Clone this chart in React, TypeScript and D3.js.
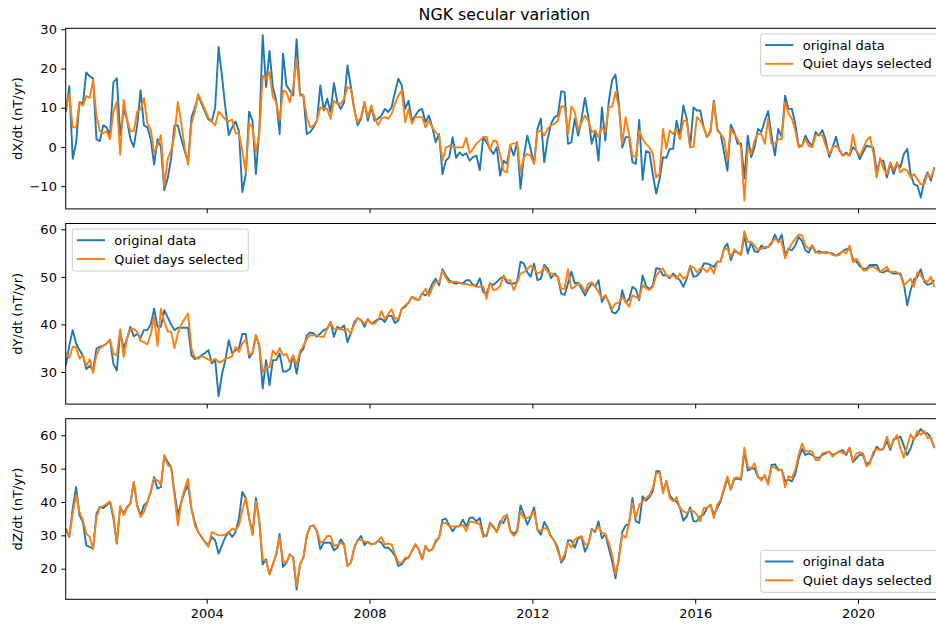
import React, { useEffect, useRef } from 'react';
import * as d3 from 'd3';

// monthly series, first value is July 2000 (mid-month), one row per year
const START_YEAR = 2000 + 6.5 / 12;
const yearTicks = [2004, 2008, 2012, 2016, 2020];
const seriesNames = ['original data', 'Quiet days selected'];

const dxOriginal = [
  9, 15.5, -3, 1, 11.5, 11,
  19, 18, 17.5, 2, 1.5, 5.5, 5, 3, 16.5, 17.5, 3, 9.5,
  7, 2, 0, 5.5, 14.5, 5.5, 5, 2, -4.5, 2, 0, -11,
  -8, -3, 5.5, 5.5, 2, -1, -4, 7.5, 10, 13, 11, 9,
  7, 6.5, 10, 25.5, 18, 10, 3, 5, 6.5, 4, -11.5, -7,
  9, 6.7, -6.9, 4.2, 28.5, 15.3, 24.5, 15.3, 11.8, 3.3, 23.8, 15.7,
  14.4, 13.1, 27.5, 13.6, 13.1, 3.3, 3.8, 5, 6.7, 15.7, 9.3, 12.3,
  8.9, 16.3, 11.4, 9.7, 11.4, 20.8, 15.3, 9.7, 5.5, 7.2, 11.4, 6.7,
  10.1, 6.7, 7.2, 8, 9.7, 8.9, 10.1, 14, 17.4, 15.7, 9.7, 11.8,
  6.7, 8, 9.3, 9.7, 6.3, 8, 5, 1.2, 3.3, -6.9, -3.5, -2.6,
  2.5, -2.8, -1.4, -2.2, -1.6, -3.5, -2.6, -2.2, -5.9, 2.5, 1.2, -0.5,
  -1.8, -0.1, -7.3, -3.5, -4.3, 0.3, -2.2, 1.2, -10.7, -2.2, 2.9, -0.5,
  -4.3, 4.6, 7.2, -3.9, 2, 5.9, 7.6, 8, 14.2, 14, 0.8, 1.2,
  7.2, 2.9, 7.2, 12.5, 7.6, 0.8, 3.8, -3.5, 10.1, 1.6, 11.4, 17,
  18.5, 11, -0.1, 2.5, 2.5, -3.9, -4.3, 6.9, -8.4, -1.1, -1.4, -6.9,
  -11.9, -8.2, -2.6, -2.8, -0.5, -0.5, 6.7, 2.9, 10.6, 7.2, -0.1, 10.1,
  9.3, 9.3, 5, 2.5, 3.8, 11.8, 4.6, 3.3, -1.4, -6.1, 5.7, 3.8,
  0.8, 0.9, -8, 2.9, -2.6, -0.1, 4.6, 3.8, 6.7, 9.1, 2.9, -2.2,
  4.6, 2.5, 13.1, 9.7, 9.7, 5.9, 0.3, 0.3, 2.9, 1.2, 0.3, 3.8,
  2.9, 4.3, 1.6, -2.6, -0.1, 2.6, -0.9, -2.2, -1.4, -2.2, -0.1, -0.9,
  -3.1, -1.4, 0.3, 0.1, -0.1, -6.1, -3.5, -3.5, -7.8, -4.3, -6.9, -4.3,
  -5.2, -1.8, -0.5, -6.9, -9.5, -9.9, -12.9, -8.6, -6.5, -8.6, -5.2,
];

const dxQuiet = [
  10, 13.5, 5, 5, 11.5, 10.5,
  13, 12.5, 17, 8, 4, 3.5, 4, 2, 9, 11.5, -2, 12,
  7, 4, 4, 9, 9.5, 12.5, 6, 4.5, -1.5, 0.5, 3, -10,
  -3, -1, 3, 11.5, 6, 0, -4.5, 6, 9, 13.5, 11.5, 9.5,
  7.5, 6.5, 5.5, 9, 8, 7, 6.5, 7, 3.5, 3.5, -1, -6.5,
  6, 5, -1.4, 3.3, 18.2, 17.4, 19.1, 12.7, 11.4, 6.7, 14.4, 14,
  11.4, 15.3, 22.5, 13.1, 13.1, 7.6, 5, 5.5, 6.7, 10.1, 9.7, 9.7,
  7.2, 11.8, 11, 11, 12.3, 15.3, 14.8, 9.3, 6.3, 7.6, 11.4, 7.6,
  10.6, 7.6, 5.5, 7.2, 7.6, 7.2, 8.4, 11, 13.1, 14.4, 6.3, 9.7,
  5.9, 7.6, 7.6, 7.6, 5, 6.7, 5, 3.7, 2.9, -3.5, -0.1, 0.3,
  0.1, -0.1, -0.1, -0.1, 2.3, -1.6, -0.5, 0.8, 1.6, 2.5, 2.6, -0.9,
  1.6, 1.4, -1.8, -6.1, -6.5, 0.6, 0.9, 0.9, -6.5, -2.6, -1.8, -2.2,
  -4.3, 3.8, 4.2, 2.9, 4.6, 5.5, 5.9, 6.7, 10.3, 10.3, 3.3, 10.3,
  8.9, 4.2, 6.3, 8, 6.7, 3.8, 4.2, 2.5, 5, 3.8, 10.1, 10.3,
  14, 10.1, 0.8, 7.6, 3.3, -2.2, -2.6, 4.2, 2, 0.8, -0.1, -1.8,
  -7.8, -6.9, 4.6, -0.5, 4.2, 3.3, 4.6, 2, 6.7, 6.7, -0.1, 0.1,
  7.6, 6.7, 5, 2.5, 4.2, 11.4, 4.2, 3.3, 2, -3.5, 4.6, 3.3,
  2, -0.1, -13.7, -0.1, -1.8, 1.6, 3.3, 3.3, 0.8, 7.2, 0.8, 0.8,
  2, 2, 11.4, 8.4, 7.2, 4.2, -0.1, 0.3, 2, 0.3, -0.1, 2.9,
  3.3, 2.9, 0.3, -1.8, -0.1, 0.3, -0.5, -2.2, -1.8, -2.2, 3.2, -0.9,
  -2.2, -0.5, 1.6, 2.6, -1.4, -7.8, -2.8, -5.6, -6.9, -3.9, -5.9, -3.9,
  -6.5, -5.6, -6, -7.8, -6.9, -8.2, -9.5, -9.5, -6.9, -7.8, -5.2,
];

const dyOriginal = [
  31.4, 35.6, 38.8, 36, 34.6, 33.5,
  30.6, 31.3, 30.4, 34.9, 35.3, 35.5, 36, 36.8, 31.7, 30.3, 38.5, 35,
  37, 39.5, 37.5, 38, 37.2, 38.8, 38.8, 40, 43.3, 39.5, 39.5, 43,
  41.5, 40, 38.8, 39.3, 39.3, 39.3, 39.3, 33.5, 32.7, 33, 33.5, 34,
  34.6, 31.8, 32.5, 24.9, 29.5, 32.5, 36.7, 34, 34.5, 35, 38, 38,
  33, 33.9, 37.7, 35.6, 26.5, 32.5, 27.2, 32.5, 32.5, 33.9, 30.1, 30.1,
  30.7, 33.5, 29.6, 33.9, 34.9, 37.7, 38.3, 38.1, 37.4, 38.1, 38.8, 39.1,
  40.5, 37.4, 39.5, 39.1, 39.8, 36.3, 38.1, 40.5, 41.3, 40.9, 39.5, 41.1,
  40.2, 40.6, 41.1, 41.2, 40.5, 41.8, 41.8, 40.3, 40.9, 43.3, 43.7, 44.6,
  45.8, 45.3, 45.1, 46.5, 46.1, 46.8, 48.6, 49.6, 48.2, 51.6, 50.3, 49.3,
  48.8, 48.6, 48.8, 48.6, 49.3, 49.3, 48.3, 48.1, 49.7, 46.8, 46.5, 48.6,
  48.3, 48.9, 49.7, 50, 48.8, 48.6, 48.6, 48.9, 53.2, 52.8, 51, 50,
  52.8, 49.3, 49.6, 52.5, 51.8, 49.7, 50.7, 50, 46.5, 46.2, 48.6, 51.1,
  48.6, 48.8, 47.5, 46.1, 47.5, 48.6, 47.9, 49.3, 44.7, 46.1, 44.7, 42.6,
  42.3, 43.2, 47.2, 44.6, 45.3, 47.9, 47.4, 45.1, 50.3, 48.1, 47.4, 48.2,
  51.8, 51.7, 50.3, 50.4, 49.7, 50.7, 50, 49.3, 47.9, 49.6, 52.3, 50,
  50.2, 51, 52.8, 52.8, 52.5, 52.1, 53.2, 53.2, 56, 57, 53.5, 55.4,
  55.1, 54.6, 58.7, 54.9, 57.3, 55.4, 55.2, 56.6, 56, 56.3, 57, 58.9,
  57.3, 58.9, 54.6, 55.9, 55.6, 56.6, 58.4, 57.5, 55.6, 55.1, 56.6, 55.1,
  55.4, 55.1, 55.2, 55.1, 54.9, 54.5, 54.9, 55.4, 55.8, 56, 53.8, 53.2,
  52.3, 51.7, 51.7, 52.5, 52.5, 52.5, 51.1, 50.9, 51.4, 51, 50.7, 50.7,
  50.7, 48.6, 44, 47.2, 49.5, 50, 51.6, 49, 48.3, 48.6, 49.3,
];

const dyQuiet = [
  34, 33, 35.3, 35.2, 32.8, 33.5,
  31.3, 32.7, 29.8, 33.5, 35, 35.5, 36, 36.7, 33.8, 33.5, 39, 33.2,
  37, 39, 39, 38.5, 36.5, 36.3, 35.8, 38, 41.5, 35.5, 43.3, 40.5,
  38.5, 38.5, 35, 38.2, 40, 41.2, 42.3, 35, 33, 32.8, 33.3, 33,
  32.6, 32.3, 32.8, 32, 32.2, 32.8, 33, 33.3, 35.3, 34.2, 36, 36.8,
  33.6, 34, 37.8, 35.3, 30, 31, 31, 34.5, 33.6, 35, 33.5, 33.8,
  32, 33.5, 31.5, 34.3, 35.5, 37, 37.7, 37.7, 37.7, 37.4, 37.4, 39,
  40.5, 39.1, 39.1, 39, 38.8, 39, 38.1, 40, 41.3, 40.9, 40.2, 40.9,
  40.2, 40.2, 40.9, 42.8, 41.1, 42.2, 43.2, 41.2, 41.3, 43.3, 44, 44.6,
  45.8, 45.5, 45.1, 46.5, 47.5, 46, 47.7, 49, 48.8, 51.3, 49.8, 48.8,
  49, 49, 48.8, 48.5, 48.5, 48.3, 48.2, 47.9, 47.9, 48, 45.4, 48.8,
  47.2, 47.4, 48.1, 50.3, 49.3, 49.3, 47.2, 48.8, 50.7, 51, 51.6, 52.4,
  51.7, 50.7, 51, 52.1, 51, 50.7, 50.3, 50, 47.5, 47.5, 51.6, 47.5,
  47.9, 48.6, 48.2, 46.8, 48.6, 48.9, 47.9, 46.8, 45.5, 46.1, 44.7, 43.3,
  44.4, 44.6, 45.8, 44.8, 43.7, 46.1, 45.8, 45.4, 48.3, 47.6, 47.2, 47.9,
  50.3, 51.1, 51.8, 50.3, 50, 50.3, 49.6, 50.7, 49.6, 50, 52.1, 52.1,
  50.9, 51.8, 51.7, 51, 52.1, 50.7, 53.2, 53.2, 55.8, 55.9, 54.2, 55.8,
  55.1, 54.6, 59.6, 57.3, 57.3, 56.6, 55.6, 55.9, 56.3, 56.3, 57.3, 58,
  57.5, 57.3, 53.9, 55.9, 57, 58, 58.9, 58.7, 56.6, 55.9, 56.6, 55.4,
  54.9, 55.2, 54.9, 55.1, 54.6, 54.5, 54.6, 55.4, 54.9, 56.6, 53.1, 53.8,
  52.8, 51.4, 51.4, 52.1, 52.1, 51.7, 51, 51.6, 52.1, 51, 51.1, 51,
  50.3, 48.1, 48.9, 49.6, 47.9, 51, 50.3, 49.3, 48.9, 50, 47.9,
];

const dzOriginal = [
  32, 29.5, 38, 44.5, 36, 34,
  27, 26.5, 26, 36.5, 38.5, 38.2, 39, 40, 35, 27.5, 38.5, 36.5,
  38.5, 39.5, 46, 39, 36, 39, 40, 43, 47.5, 44, 44.5, 54,
  52, 50.5, 43, 36, 40, 43, 45, 38, 34, 31, 29.5, 28,
  27, 29.5, 28.5, 24.5, 27, 29.5, 31, 29.5, 31, 35, 43, 41.2,
  35.2, 30.2, 41.2, 34.2, 21.3, 22.8, 18.3, 21.3, 24.3, 30.4, 20.5, 21.8,
  24.3, 23.3, 13.8, 21.3, 23.3, 29.8, 32.7, 33, 31.2, 25.8, 27.8, 27.8,
  27.8, 25.5, 26.3, 28.8, 27.3, 20.8, 21.8, 26.3, 28.5, 29.8, 27.1, 28.1,
  27.3, 27.5, 28.3, 27.8, 26.3, 26.3, 25.3, 23.8, 20.8, 21.3, 22.8, 23.3,
  25.3, 27.3, 25.8, 22.8, 26.8, 25.3, 25.8, 28, 29.3, 34.7, 35, 33,
  31.2, 32.7, 32.7, 34.7, 32.7, 35.2, 35.4, 34.2, 35.2, 30.2, 29.8, 33.7,
  32.7, 31, 34.2, 33.7, 36.2, 31.4, 30.4, 31.4, 39, 36.4, 33.2, 35.4,
  38.4, 31.7, 30.2, 34, 32.2, 29.8, 28.3, 26.3, 21.8, 23.3, 28.5, 28.5,
  26.3, 29.1, 29.5, 25.1, 27.3, 32, 31, 34.2, 29.1, 30.4, 26.3, 22.3,
  17.1, 23.5, 31, 33, 33.4, 41.2, 34.2, 33.7, 41.7, 40.4, 41.4, 43.2,
  49.2, 49.2, 43, 46.2, 42, 40.7, 40.2, 38.2, 34.4, 35.7, 38.4, 34.2,
  34.2, 35.7, 36.2, 38.2, 39.2, 36.2, 38.2, 40.2, 43.7, 47, 43.7, 46.7,
  47, 46.7, 55.3, 49.4, 50, 50.1, 47.4, 47, 47.7, 45.7, 51.1, 51.3,
  49.7, 49.7, 46.2, 46.7, 46.2, 48.4, 53.1, 55.9, 54.1, 54.6, 54.1, 53.3,
  53.3, 54.1, 54.6, 55.1, 54.1, 54.6, 55.1, 55.6, 54.1, 56.3, 51.9, 53.1,
  54.3, 53.9, 51.3, 52.1, 54.1, 56.6, 55.6, 55.9, 58.3, 55.6, 58.9, 59.1,
  59.6, 56.9, 54.1, 56.1, 59.1, 60.1, 61.9, 60.6, 60.6, 59.1, 56.3,
];

const dzQuiet = [
  31.5, 29.8, 36.5, 42.2, 37, 34.5,
  30.5, 29.5, 25.8, 35.5, 38.3, 38.8, 39.5, 40.2, 36, 27.8, 38.8, 36,
  38.2, 39.5, 46, 39, 35.5, 37, 40, 43, 47, 46.5, 45, 54,
  51, 50.5, 42, 33, 40, 44, 47, 38, 33, 31, 29.5, 28,
  26.5, 31, 30.5, 30, 30, 30.3, 31, 32, 31.5, 33, 37.5, 41.2,
  35.2, 30.2, 40.2, 34.2, 22.8, 22.3, 18.3, 21.3, 24.3, 29.3, 22.3, 21.8,
  24.3, 23.3, 14.8, 21.3, 23.3, 29.8, 32.7, 33, 31.2, 27.8, 28.3, 29.8,
  29.8, 26.8, 27.1, 27.8, 27.1, 20.8, 21.8, 26.3, 28.5, 28.8, 28.1, 27.8,
  27.3, 27.5, 28.3, 29.5, 27.3, 27.5, 27.3, 24.3, 21.8, 21.8, 23.3, 23.3,
  25.3, 27.3, 25.8, 22.8, 26.8, 25.3, 25.8, 28.5, 29.3, 33.7, 33.7, 32.7,
  32.7, 32.7, 32.7, 33.2, 31.2, 34.2, 34, 33.7, 33.4, 29.5, 30.2, 33.4,
  32.4, 31, 33.4, 35.7, 36, 31.2, 29.8, 31, 37.2, 35.2, 35.2, 35.7,
  37.2, 31.7, 31.4, 32.2, 31.7, 29.5, 28.3, 25.3, 22.3, 24.3, 27.8, 26.3,
  28.8, 29.3, 29.8, 27.3, 27.3, 31.7, 31.4, 32.7, 30.7, 30.4, 27.8, 24.3,
  18.3, 22.8, 30.2, 29.3, 33.7, 39.7, 35.2, 39.2, 40.2, 41.2, 42, 44.2,
  48.7, 48.7, 42.7, 46.4, 41.2, 40.2, 41.4, 38.2, 37.2, 36.7, 37.7, 37.2,
  36.2, 34.2, 38.2, 38.2, 39.2, 35.2, 39.2, 40.7, 44.2, 47.7, 43.7, 47.2,
  47.4, 47, 56.3, 50.6, 50.1, 51.6, 47.7, 46.4, 48.2, 45.2, 50.6, 50.3,
  49.4, 49.7, 44.4, 47.7, 47.2, 49.7, 54.1, 57.6, 55.1, 55.3, 55.1, 52.6,
  52.6, 54.6, 54.9, 55.1, 53.6, 54.6, 55.3, 54.6, 54.6, 56.3, 52.1, 54.6,
  54.9, 54.6, 50.6, 51.6, 55.1, 55.9, 55.6, 56.1, 59.6, 56.3, 58.3, 60.1,
  56.1, 53.3, 56.9, 60.3, 58.6, 61.3, 60.1, 61.3, 59.1, 59.3, 56.1,
];

const panels = [
  { label: 'dX/dt (nT/yr)', orig: dxOriginal, quiet: dxQuiet, domain: [-15.8, 30.26], ticks: [-10, 0, 10, 20, 30], legend: 'upper right' },
  { label: 'dY/dt (nT/yr)', orig: dyOriginal, quiet: dyQuiet, domain: [23.25, 61.22], ticks: [30, 40, 50, 60], legend: 'upper left' },
  { label: 'dZ/dt (nT/yr)', orig: dzOriginal, quiet: dzQuiet, domain: [10.82, 64.98], ticks: [20, 30, 40, 50, 60], legend: 'lower right' },
];

const W = 936;
const H = 624;
const LEFT = 65.7;
const TOP = 28.3;
const PANEL_H = 180.6;
const PANEL_STEP = 195.2;
const FONT = '"DejaVu Sans", sans-serif';
const FS = 13;
const BLUE = '#1f77b4';
const ORANGE = '#ff7f0e';

export default function App() {
  const svgRef = useRef<SVGSVGElement>(null);

  useEffect(() => {
    const svg = d3.select(svgRef.current);
    svg.selectAll('*').remove();

    // axes extend slightly past the saved picture on the right
    const x = d3.scaleLinear().domain([2000.536, 2021.94]).range([LEFT, W + 1]);
    const t = (i: number) => START_YEAR + i / 12;

    svg.append('text')
      .attr('x', (LEFT + W + 7) / 2)
      .attr('y', 20)
      .attr('text-anchor', 'middle')
      .attr('font-family', FONT)
      .attr('font-size', 15.8)
      .attr('fill', '#000')
      .text('NGK secular variation');

    panels.forEach((p, pi) => {
      const top = TOP + pi * PANEL_STEP;
      const bottom = top + PANEL_H;
      const y = d3.scaleLinear().domain(p.domain).range([bottom, top]);
      const g = svg.append('g');

      const clipId = `clip-${pi}`;
      g.append('clipPath').attr('id', clipId)
        .append('rect')
        .attr('x', LEFT).attr('y', top)
        .attr('width', W + 1 - LEFT).attr('height', PANEL_H);

      const line = d3.line<number>()
        .x((_, i) => x(t(i)))
        .y(d => y(d));

      const lines = g.append('g').attr('clip-path', `url(#${clipId})`);
      [[p.orig, BLUE], [p.quiet, ORANGE]].forEach(([vals, color]) => {
        lines.append('path')
          .datum(vals as number[])
          .attr('d', line)
          .attr('fill', 'none')
          .attr('stroke', color as string)
          .attr('stroke-width', 1.9)
          .attr('stroke-linejoin', 'round');
      });

      // frame
      g.append('rect')
        .attr('x', LEFT).attr('y', top)
        .attr('width', W + 2 - LEFT).attr('height', PANEL_H)
        .attr('fill', 'none')
        .attr('stroke', '#000')
        .attr('stroke-width', 1);

      const yAxis = g.append('g')
        .attr('transform', `translate(${LEFT},0)`)
        .call(d3.axisLeft(y).tickValues(p.ticks).tickSize(4.4).tickSizeOuter(0).tickPadding(4.4));
      yAxis.select('.domain').remove();

      const xAxis = g.append('g')
        .attr('transform', `translate(0,${bottom})`)
        .call(d3.axisBottom(x).tickValues(yearTicks).tickSize(4.4).tickSizeOuter(0).tickPadding(4.4)
          .tickFormat(pi === 2 ? d3.format('d') : () => ''));
      xAxis.select('.domain').remove();

      [yAxis, xAxis].forEach(ax => {
        ax.selectAll('line').attr('stroke', '#000').attr('stroke-width', 1);
        ax.selectAll('text')
          .attr('font-family', FONT)
          .attr('font-size', FS)
          .attr('fill', '#000');
      });
      xAxis.selectAll('text').attr('dy', '0.76em');

      g.append('text')
        .attr('transform', `translate(17,${(top + bottom) / 2}) rotate(-90)`)
        .attr('text-anchor', 'middle')
        .attr('dominant-baseline', 'central')
        .attr('font-family', FONT)
        .attr('font-size', FS)
        .attr('fill', '#000')
        .text(p.label);

      // legend
      const boxW = 176;
      const boxH = 42;
      const lx = p.legend === 'upper left' ? 72.3 : 760.7;
      const ly = p.legend === 'lower right' ? bottom - 7 - boxH : top + 5.5;
      const leg = g.append('g').attr('transform', `translate(${lx},${ly})`);
      leg.append('rect')
        .attr('width', p.legend === 'upper left' ? boxW : boxW + 10)
        .attr('height', boxH)
        .attr('rx', 2.5)
        .attr('fill', '#fff')
        .attr('fill-opacity', 0.8)
        .attr('stroke', '#cccccc')
        .attr('stroke-width', 1);
      [BLUE, ORANGE].forEach((color, k) => {
        const ry = 11.2 + k * 18.8;
        leg.append('line')
          .attr('x1', 4.4).attr('x2', 32.7)
          .attr('y1', ry).attr('y2', ry)
          .attr('stroke', color)
          .attr('stroke-width', 1.9);
        leg.append('text')
          .attr('x', 42)
          .attr('y', ry)
          .attr('dy', '0.35em')
          .attr('font-family', FONT)
          .attr('font-size', FS)
          .attr('fill', '#000')
          .text(seriesNames[k]);
      });
    });
  }, []);

  return (
    <svg
      ref={svgRef}
      width={W}
      height={H}
      style={{ position: 'absolute', left: 0, top: 0, display: 'block', background: '#fff' }}
    />
  );
}
